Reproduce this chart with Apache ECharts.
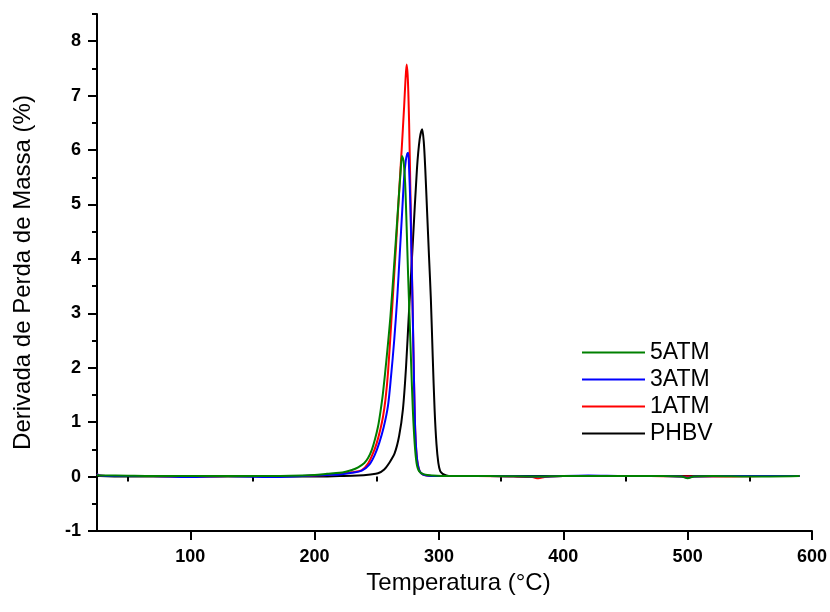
<!DOCTYPE html>
<html>
<head>
<meta charset="utf-8">
<script src="https://cdn.jsdelivr.net/npm/echarts@6/dist/echarts.min.js"></script>
<style>
  html, body { margin: 0; padding: 0; background: #fff; }
  #chart { width: 830px; height: 612px; }
</style>
</head>
<body>
<div id="chart"></div>
<script>
// temperatures (°C) and derivative of mass loss (%)
const t5ATM = [25, 28, 40, 70, 100, 130, 160, 190, 200, 210, 220, 225, 230, 235, 240, 243, 246, 248.5, 251, 253, 255, 258, 261, 264, 267, 269, 270.3, 271.5, 272.8, 274, 275.2, 276.4, 277.6, 279, 280.5, 282, 284, 288, 295, 310, 340, 380, 400, 420, 450, 480, 495, 500, 505, 520, 550, 590]
const v5ATM = [0.03, 0.02, 0.02, 0.01, 0.01, 0.01, 0.01, 0.02, 0.03, 0.05, 0.07, 0.09, 0.12, 0.17, 0.25, 0.34, 0.49, 0.68, 0.92, 1.2, 1.54, 2.2, 2.95, 3.9, 4.9, 5.55, 5.89, 5.8, 5.4, 4.6, 3.7, 2.9, 2.1, 1.23, 0.6, 0.25, 0.1, 0.04, 0.02, 0.01, 0.01, 0.0, 0.01, 0.01, 0.01, 0.01, 0.0, -0.03, 0.0, 0.01, 0.0, 0.01]

const t3ATM = [25, 27, 40, 70, 98, 130, 165, 190, 200, 210, 220, 230, 238, 244, 248.4, 252, 255.5, 259, 261.5, 264, 266.5, 268.5, 270.5, 272, 273.3, 274.5, 275.3, 276, 277, 278, 279, 280, 281, 282.5, 285, 290, 300, 340, 380, 420, 450, 480, 495, 500, 505, 530, 560, 590]
const v3ATM = [0.05, 0.02, 0.01, 0.01, -0.01, 0.01, -0.01, 0.01, 0.02, 0.03, 0.04, 0.07, 0.11, 0.22, 0.4, 0.62, 0.9, 1.3, 1.85, 2.5, 3.3, 4.1, 4.9, 5.5, 5.8, 5.93, 5.95, 5.65, 5.0, 4.0, 2.9, 1.7, 0.8, 0.3, 0.08, 0.02, 0.01, 0.01, 0.0, 0.02, 0.01, 0.01, 0.0, -0.02, 0.0, 0.01, 0.01, 0.01]

const t1ATM = [25, 27, 40, 70, 100, 130, 160, 190, 200, 210, 220, 230, 238, 243, 247, 250, 253, 255, 257, 259, 261.7, 264, 266, 268, 270, 272, 273, 274, 275, 276, 277, 278, 279, 280, 281, 282.5, 285, 290, 300, 330, 360, 375, 380, 385, 400, 430, 470, 500, 530, 560, 590]
const v1ATM = [0.05, 0.02, 0.01, 0.01, 0.0, 0.01, 0.01, 0.01, 0.02, 0.03, 0.05, 0.08, 0.12, 0.24, 0.43, 0.62, 0.88, 1.1, 1.42, 1.9, 2.85, 3.7, 4.45, 5.25, 6.0, 6.8, 7.25, 7.57, 7.3, 6.5, 5.3, 4.1, 2.9, 1.7, 0.8, 0.3, 0.08, 0.02, 0.01, 0.01, 0.0, -0.01, -0.03, -0.01, 0.01, 0.01, 0.01, 0.0, 0.0, 0.01, 0.01]

const tPHBV = [25, 27, 50, 100, 150, 200, 220, 235, 245, 251, 256, 260, 264.4, 268, 271, 273.5, 276, 279, 282.3, 284.5, 286.5, 287.8, 289, 290.5, 292, 293.5, 295, 296.5, 298, 299.5, 301, 303, 306, 310, 330, 380, 430, 480, 530, 590]
const vPHBV = [0.02, 0.01, 0.0, 0.0, 0.0, 0.0, 0.01, 0.02, 0.04, 0.06, 0.13, 0.25, 0.43, 0.75, 1.23, 2.0, 3.07, 4.3, 5.65, 6.2, 6.38, 6.15, 5.65, 4.85, 4.05, 3.26, 2.2, 1.23, 0.6, 0.25, 0.1, 0.05, 0.02, 0.01, 0.01, 0.01, 0.01, 0.01, 0.01, 0.01]

const xMajor = [100, 200, 300, 400, 500, 600]
const xMinor = [50, 150, 250, 350, 450, 550]
const yMajor = [-1, 0, 1, 2, 3, 4, 5, 6, 7, 8]
const yMinor = [-0.5, 0.5, 1.5, 2.5, 3.5, 4.5, 5.5, 6.5, 7.5, 8.5]

const font = '"Liberation Sans", Arial, sans-serif'
const pairs = (xs, ys) => xs.map((x, i) => [x, ys[i]])

const chart = echarts.init(document.getElementById('chart'))

const lineSeries = (name, xs, ys, color) => ({
  name: name,
  type: 'line',
  xAxisIndex: 0,
  yAxisIndex: 0,
  data: pairs(xs, ys),
  smooth: 0.3,
  showSymbol: false,
  symbol: 'none',
  color: color,
  lineStyle: { color: color, width: 2 }
})

const option = {
  animation: false,
  backgroundColor: '#fff',
  grid: { left: 97, right: 15, top: 14, bottom: 81 },
  legend: {
    orient: 'vertical',
    left: 582,
    top: 341,
    padding: 0,
    icon: 'rect',
    itemWidth: 63,
    itemHeight: 2,
    itemGap: 4,
    data: ['5ATM', '3ATM', '1ATM', 'PHBV'],
    textStyle: { fontSize: 23, color: '#000', fontFamily: font }
  },
  xAxis: [
    {
      type: 'value',
      min: 25,
      max: 600,
      position: 'bottom',
      name: 'Temperatura (°C)',
      nameLocation: 'middle',
      nameGap: 30,
      nameTextStyle: { fontSize: 24, color: '#000', fontFamily: font, padding: [0, 0, 0, 8] },
      axisLine: { show: true, onZero: false, lineStyle: { color: '#000', width: 2 } },
      axisTick: { show: true, length: 9, customValues: xMajor, lineStyle: { color: '#000', width: 2 } },
      axisLabel: { customValues: xMajor, margin: 17, fontSize: 18, fontWeight: 'bold', color: '#000', fontFamily: font },
      splitLine: { show: false }
    },
    {
      type: 'value',
      min: 25,
      max: 600,
      position: 'bottom',
      axisLine: { show: false },
      axisTick: { show: true, length: 5, customValues: xMinor, lineStyle: { color: '#000', width: 2 } },
      axisLabel: { show: false },
      splitLine: { show: false }
    }
  ],
  yAxis: [
    {
      type: 'value',
      min: -1,
      max: 8.5,
      position: 'left',
      name: 'Derivada de Perda de Massa (%)',
      nameLocation: 'middle',
      nameGap: 62,
      nameTextStyle: { fontSize: 24, color: '#000', fontFamily: font },
      axisLine: { show: true, onZero: false, lineStyle: { color: '#000', width: 2 } },
      axisTick: { show: true, length: 9, customValues: yMajor, lineStyle: { color: '#000', width: 2 } },
      axisLabel: { customValues: yMajor, margin: 16, fontSize: 18, fontWeight: 'bold', color: '#000', fontFamily: font },
      splitLine: { show: false }
    },
    {
      type: 'value',
      min: -1,
      max: 8.5,
      position: 'left',
      axisLine: { show: false },
      axisTick: { show: true, length: 5, customValues: yMinor, lineStyle: { color: '#000', width: 2 } },
      axisLabel: { show: false },
      splitLine: { show: false }
    }
  ],
  series: [
    lineSeries('PHBV', tPHBV, vPHBV, '#000000'),
    lineSeries('1ATM', t1ATM, v1ATM, '#ff0000'),
    lineSeries('3ATM', t3ATM, v3ATM, '#0000ff'),
    lineSeries('5ATM', t5ATM, v5ATM, '#008000')
  ]
}

option && chart.setOption(option)
</script>
</body>
</html>
